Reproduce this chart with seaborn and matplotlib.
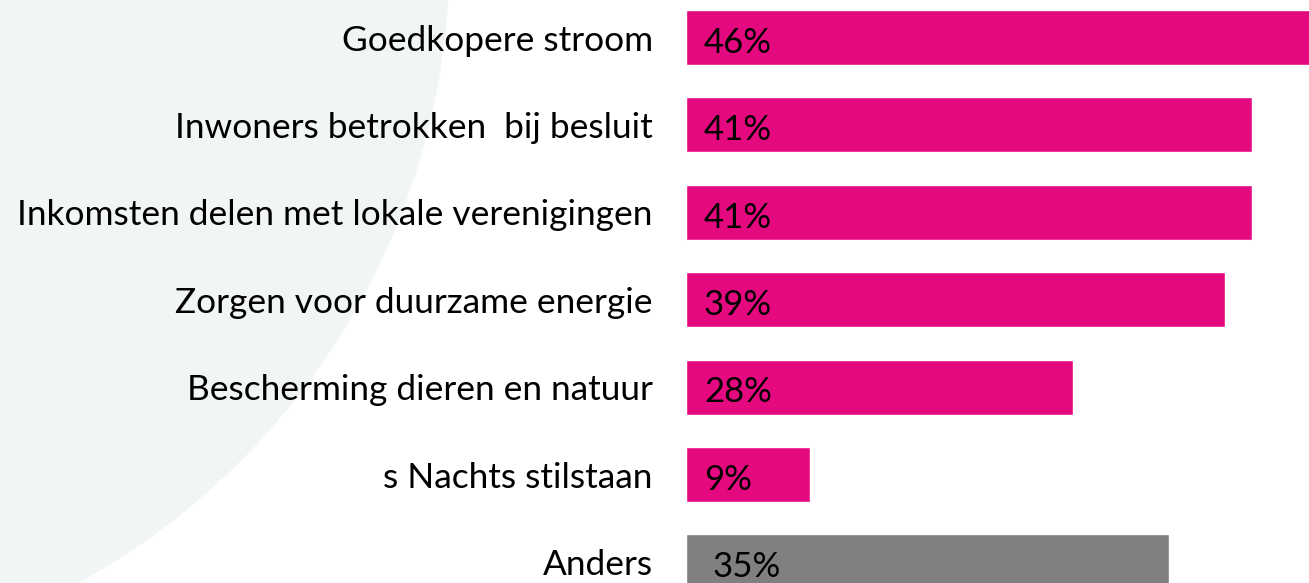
import matplotlib
matplotlib.use("Agg")
import matplotlib.pyplot as plt
import seaborn as sns
import pandas as pd
from matplotlib.patches import Circle

categories = ["Goedkopere stroom", "Inwoners betrokken  bij besluit",
              "Inkomsten delen met lokale verenigingen", "Zorgen voor duurzame energie",
              "Bescherming dieren en natuur", "s Nachts stilstaan", "Anders"]
values = [46, 41, 41, 39, 28, 9, 35]
value_labels = ["46%", "41%", "41%", "39%", "28%", "9%", "35%"]
bar_colors = ["#E5097F"] * 6 + ["#808080"]

sns.set_theme(style="white")
plt.rcParams['font.family'] = ['Lato', 'DejaVu Sans']

W, H = 1309, 583
fig = plt.figure(figsize=(W / 100, H / 100), dpi=100)
fig.patch.set_facecolor("white")

# background decoration
bg = fig.add_axes([0, 0, 1, 1])
bg.set_xlim(0, W)
bg.set_ylim(H, 0)
bg.set_axis_off()
bg.add_patch(Circle((-267, -45), 716, color="#F2F5F6", zorder=0))

ax = fig.add_axes([686 / W, 0, (W - 686) / W, 1])
ax.patch.set_alpha(0)
df = pd.DataFrame({"cat": categories, "val": values})
sns.barplot(data=df, y="cat", x="val", hue="cat", palette=bar_colors,
            orient="h", width=0.63, legend=False, ax=ax, saturation=1)
ax.set_xlim(0, 45.1)
ax.set_ylim(6.24, -0.429)
for s in ax.spines.values():
    s.set_visible(False)
ax.set_xticks([])
ax.set_xlabel("")
ax.set_ylabel("")
ax.tick_params(axis="y", length=0, pad=24, labelsize=25.4, labelcolor="black")
for lab in ax.get_yticklabels():
    lab.set_color("black")

for i, (v, t) in enumerate(zip(values, value_labels)):
    xoff = 1.3 if i < 6 else 1.9
    ax.text(xoff, i + 0.06, t, va="center", ha="left", fontsize=25, color="black")

fig.savefig("out.png", dpi=100)
